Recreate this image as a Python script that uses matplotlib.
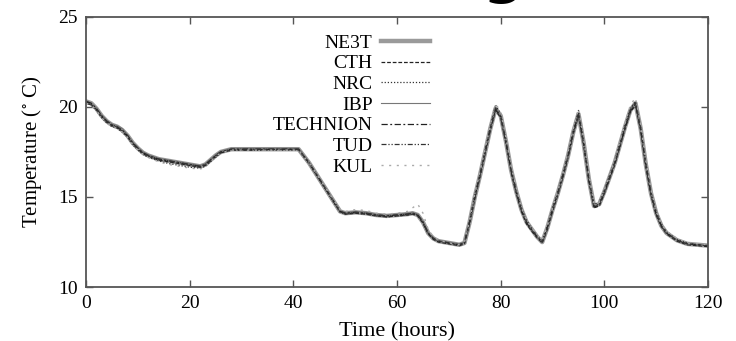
import matplotlib
matplotlib.use("Agg")
import matplotlib.pyplot as plt

plt.rcParams['font.family'] = ['Liberation Serif', 'DejaVu Serif']
plt.rcParams['mathtext.fontset'] = 'stix'

# time axis (hours), shared by all series
hours = [0, 1, 2, 3, 4, 5, 6, 7, 8, 9, 10, 11, 12, 14, 16, 18, 20, 22,
         23, 24, 25, 26, 28, 32, 36, 41, 43, 45, 47, 49, 50, 52, 54, 56, 58, 60, 62,
         63, 64, 65, 66, 67, 68, 70, 72,
         73, 74, 75, 76, 77, 78, 79, 80, 81, 82, 83, 84, 85, 86, 87, 88, 89, 90, 91, 92,
         93, 94, 95, 96, 97, 98, 99, 100, 101, 102, 103, 104, 105, 106, 107, 108, 109, 110, 111, 112,
         114, 116, 118, 120]

nest = [20.3, 20.2, 19.9, 19.5, 19.2, 19.0, 18.9, 18.7, 18.4, 18.0, 17.7, 17.45, 17.3, 17.1, 17.0, 16.9, 16.8, 16.7,
        16.8, 17.05, 17.3, 17.5, 17.65, 17.65, 17.65, 17.65, 16.9, 16.0, 15.1, 14.2, 14.1, 14.15, 14.1, 14.0, 13.95, 14.0, 14.05,
        14.1, 14.0, 13.6, 13.0, 12.7, 12.55, 12.45, 12.35,
        12.45, 13.6, 15.0, 16.2, 17.5, 18.8, 19.9, 19.5, 18.1, 16.5, 15.3, 14.3, 13.6, 13.2, 12.8, 12.5, 13.3, 14.3, 15.2, 16.2,
        17.3, 18.6, 19.6, 18.0, 16.0, 14.5, 14.6, 15.3, 16.1, 16.9, 17.9, 18.9, 19.8, 20.2, 18.8, 16.8, 15.2, 14.1, 13.4, 13.0,
        12.6, 12.4, 12.35, 12.3]
cth = [20.3, 20.15, 19.85, 19.45, 19.15, 18.95, 18.85, 18.65, 18.35, 17.95, 17.65, 17.4, 17.25, 17.05, 16.95, 16.85, 16.75, 16.65,
       16.75, 17.0, 17.25, 17.45, 17.6, 17.6, 17.65, 17.65, 16.9, 16.0, 15.1, 14.2, 14.05, 14.1, 14.05, 13.95, 13.9, 13.95, 14.0,
       14.05, 13.95, 13.55, 12.95, 12.65, 12.5, 12.4, 12.3,
       12.4, 13.5, 14.9, 16.1, 17.4, 18.7, 19.8, 19.4, 18.0, 16.4, 15.2, 14.2, 13.5, 13.1, 12.75, 12.45, 13.2, 14.2, 15.1, 16.1,
       17.2, 18.5, 19.5, 17.9, 15.9, 14.4, 14.5, 15.2, 16.0, 16.8, 17.8, 18.8, 19.7, 20.1, 18.7, 16.7, 15.1, 14.0, 13.35, 12.95,
       12.55, 12.35, 12.3, 12.25]
nrc = [20.25, 20.1, 19.8, 19.4, 19.1, 18.9, 18.8, 18.6, 18.3, 17.9, 17.6, 17.35, 17.2, 17.0, 16.85, 16.75, 16.65, 16.6,
       16.7, 16.95, 17.2, 17.45, 17.6, 17.6, 17.6, 17.6, 16.85, 15.95, 15.05, 14.15, 14.05, 14.1, 14.05, 13.95, 13.9, 13.95, 14.0,
       14.05, 14.0, 13.6, 13.0, 12.7, 12.55, 12.45, 12.35,
       12.5, 13.7, 15.1, 16.3, 17.6, 18.9, 20.1, 19.6, 18.2, 16.6, 15.4, 14.4, 13.7, 13.25, 12.85, 12.55, 13.4, 14.4, 15.3, 16.3,
       17.4, 18.7, 19.8, 18.1, 16.1, 14.6, 14.7, 15.4, 16.2, 17.0, 18.0, 19.0, 19.9, 20.3, 18.9, 16.9, 15.3, 14.2, 13.5, 13.05,
       12.65, 12.45, 12.35, 12.3]
ibp = [20.35, 20.2, 19.95, 19.55, 19.25, 19.05, 18.95, 18.8, 18.45, 18.05, 17.75, 17.5, 17.35, 17.15, 17.05, 16.95, 16.85, 16.75,
       16.85, 17.1, 17.35, 17.55, 17.7, 17.7, 17.7, 17.7, 16.95, 16.05, 15.15, 14.25, 14.15, 14.2, 14.15, 14.05, 14.0, 14.05, 14.1,
       14.15, 14.05, 13.65, 13.05, 12.75, 12.6, 12.5, 12.4,
       12.5, 13.6, 15.0, 16.2, 17.5, 18.8, 19.9, 19.5, 18.1, 16.5, 15.3, 14.3, 13.6, 13.2, 12.8, 12.5, 13.3, 14.3, 15.2, 16.2,
       17.3, 18.6, 19.6, 18.0, 16.0, 14.5, 14.6, 15.3, 16.1, 16.9, 17.9, 18.9, 19.8, 20.2, 18.8, 16.8, 15.2, 14.1, 13.4, 13.0,
       12.6, 12.4, 12.35, 12.3]
technion = [20.3, 20.2, 19.9, 19.5, 19.2, 19.0, 18.85, 18.7, 18.4, 18.0, 17.7, 17.45, 17.3, 17.1, 17.0, 16.9, 16.8, 16.7,
            16.8, 17.05, 17.3, 17.5, 17.65, 17.65, 17.65, 17.65, 16.9, 16.0, 15.1, 14.2, 14.1, 14.15, 14.1, 14.0, 13.95, 14.0, 14.05,
            14.1, 14.0, 13.6, 13.0, 12.7, 12.55, 12.45, 12.35,
            12.45, 13.6, 15.0, 16.2, 17.5, 18.8, 19.85, 19.45, 18.05, 16.45, 15.25, 14.25, 13.55, 13.15, 12.8, 12.5, 13.3, 14.3, 15.2, 16.2,
            17.3, 18.6, 19.55, 17.95, 15.95, 14.45, 14.55, 15.25, 16.05, 16.85, 17.85, 18.85, 19.75, 20.15, 18.75, 16.75, 15.15, 14.05, 13.4, 13.0,
            12.6, 12.4, 12.35, 12.3]
tud = [20.2, 20.1, 19.85, 19.5, 19.2, 19.0, 18.9, 18.7, 18.4, 18.0, 17.7, 17.45, 17.3, 17.1, 17.0, 16.9, 16.8, 16.7,
       16.8, 17.05, 17.3, 17.5, 17.65, 17.65, 17.65, 17.65, 16.9, 16.0, 15.1, 14.2, 14.1, 14.15, 14.1, 14.0, 13.95, 14.0, 14.05,
       14.1, 14.0, 13.6, 13.0, 12.7, 12.55, 12.45, 12.35,
       12.45, 13.65, 15.05, 16.25, 17.55, 18.85, 19.95, 19.5, 18.1, 16.5, 15.3, 14.3, 13.6, 13.2, 12.8, 12.5, 13.3, 14.3, 15.2, 16.2,
       17.3, 18.6, 19.65, 18.0, 16.0, 14.5, 14.6, 15.3, 16.1, 16.9, 17.9, 18.9, 19.85, 20.25, 18.8, 16.8, 15.2, 14.1, 13.4, 13.0,
       12.6, 12.4, 12.35, 12.3]
kul = [20.2, 20.1, 19.8, 19.4, 19.1, 18.9, 18.8, 18.6, 18.3, 17.9, 17.6, 17.35, 17.2, 16.95, 16.8, 16.7, 16.6, 16.55,
       16.65, 16.95, 17.25, 17.45, 17.6, 17.6, 17.6, 17.6, 16.9, 16.05, 15.15, 14.3, 14.2, 14.3, 14.25, 14.1, 14.05, 14.1, 14.2,
       14.4, 14.6, 14.1, 13.2, 12.8, 12.6, 12.45, 12.35,
       12.5, 13.7, 15.2, 16.4, 17.7, 19.0, 20.2, 19.7, 18.3, 16.7, 15.5, 14.4, 13.7, 13.3, 12.9, 12.6, 13.4, 14.4, 15.3, 16.3,
       17.5, 18.8, 19.9, 18.2, 16.2, 14.6, 14.7, 15.4, 16.2, 17.0, 18.1, 19.1, 20.1, 20.5, 19.0, 17.0, 15.4, 14.2, 13.5, 13.1,
       12.7, 12.45, 12.4, 12.35]

series = [
    ("NE3T", nest, dict(color="#9a9a9a", lw=3.2, ls="-")),
    ("CTH", cth, dict(color="#222222", lw=0.9, ls=(0, (3, 1.5)))),
    ("NRC", nrc, dict(color="#333333", lw=0.9, ls=(0, (1, 1.5)))),
    ("IBP", ibp, dict(color="#777777", lw=0.8, ls="-")),
    ("TECHNION", technion, dict(color="#222222", lw=0.9, ls=(0, (5, 2, 1.5, 2)))),
    ("TUD", tud, dict(color="#333333", lw=0.9, ls=(0, (4, 1.5, 1, 1.5, 1, 1.5)))),
    ("KUL", kul, dict(color="#aaaaaa", lw=1.0, ls=(0, (1.5, 4)))),
]

fig = plt.figure(figsize=(7.36, 3.41), dpi=100)
ax = fig.add_axes([0.117, 0.158, 0.845, 0.793])

for name, vals, style in series:
    ax.plot(hours, vals, label=name, **style)

ax.set_xlim(0, 120)
ax.set_ylim(10, 25)
ax.set_xticks([0, 20, 40, 60, 80, 100, 120])
ax.set_yticks([10, 15, 20, 25])
ax.tick_params(direction="in", top=True, right=True, length=5, width=1,
               labelsize=14, pad=6, color="#555555")
for sp in ax.spines.values():
    sp.set_linewidth(1.3)
    sp.set_color("#555555")

ax.set_xlabel("Time (hours)", fontsize=16, labelpad=7)
ax.set_ylabel("Temperature ($^{\\circ}$ C)", fontsize=15, labelpad=10)

fig.legend(loc="upper right", bbox_to_anchor=(430 / 736, 1 - 34 / 341),
           frameon=False, markerfirst=False, fontsize=14, handlelength=2.5,
           handletextpad=0.45, labelspacing=0.16, borderaxespad=0, borderpad=0)

# cut-off glyph from the page text above the figure
fig.text(503 / 736, 1 - 4 / 341, "g", fontsize=42, ha="center", va="bottom",
         family="DejaVu Sans", weight="bold")

fig.savefig("out.png", dpi=100)
